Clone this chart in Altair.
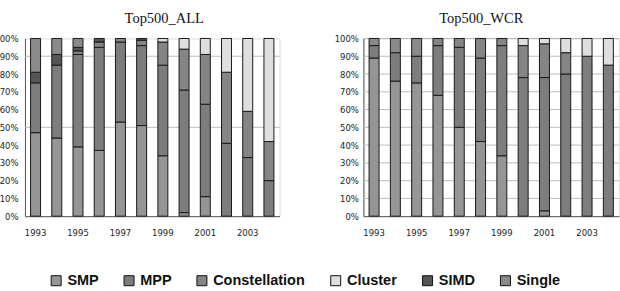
import altair as alt
import pandas as pd

# Architecture share of Top500 systems per year (percent of systems)
years = list(range(1993, 2005))
categories = ["SMP", "MPP", "Constellation", "Cluster", "SIMD", "Single"]
colors = ["#959595", "#7d7d7d", "#858585", "#dedede", "#555555", "#8a8a8a"]

# Top500_ALL
all_smp = [47, 44, 39, 37, 53, 51, 34, 2, 11, 0, 0, 0]
all_mpp = [28, 41, 52, 58, 45, 45, 51, 69, 52, 41, 33, 20]
all_const = [0, 0, 2, 3, 2, 3, 13, 23, 28, 40, 26, 22]
all_cluster = [0, 0, 0, 0, 0, 0, 2, 6, 9, 19, 41, 58]
all_simd = [6, 6, 2, 2, 0, 1, 0, 0, 0, 0, 0, 0]
all_single = [19, 9, 5, 0, 0, 0, 0, 0, 0, 0, 0, 0]

# Top500_WCR
wcr_smp = [89, 76, 75, 68, 50, 42, 34, 0, 3, 0, 0, 0]
wcr_mpp = [7, 16, 15, 28, 45, 47, 62, 78, 75, 80, 90, 85]
wcr_const = [0, 0, 0, 4, 5, 11, 4, 18, 19, 12, 0, 0]
wcr_cluster = [0, 0, 0, 0, 0, 0, 0, 4, 3, 8, 10, 15]
wcr_simd = [0, 0, 0, 0, 0, 0, 0, 0, 0, 0, 0, 0]
wcr_single = [4, 8, 10, 0, 0, 0, 0, 0, 0, 0, 0, 0]

y_ticks = [0, 0.1, 0.2, 0.3, 0.4, 0.5, 0.6, 0.7, 0.8, 0.9, 1.0]
all_grid = [0.5, 0.9]
wcr_grid = y_ticks[1:]

AXIS_FONT = "DejaVu Sans"


def long_table(series):
    rows = []
    for k, cat in enumerate(categories):
        for yr, v in zip(years, series[k]):
            rows.append({"year": yr, "arch": cat, "stack_idx": k, "share": v})
    return pd.DataFrame(rows)


def panel(series, title, title_dx, grid_levels, width, y_label_pad):
    df = long_table(series)
    y_scale = alt.Scale(domain=[0, 1])
    x_scale = alt.Scale(paddingInner=0, paddingOuter=0)
    y_axis = alt.Axis(
        title=None, format=".0%", values=y_ticks, grid=False, ticks=False,
        labelFont=AXIS_FONT, labelFontSize=8.5, labelColor="#222",
        labelPadding=y_label_pad, domainColor="#555",
    )

    bars = alt.Chart(df).transform_filter("datum.share > 0").mark_bar(
        size=10, stroke="#1a1a1a", strokeWidth=1
    ).encode(
        x=alt.X(
            "year:O",
            scale=x_scale,
            axis=alt.Axis(
                title=None, labelAngle=0, ticks=False,
                labelExpr="datum.value % 2 == 1 ? datum.label : ''",
                labelFont=AXIS_FONT, labelFontSize=8.5, labelColor="#222",
                labelPadding=12, domainColor="#555",
            ),
        ),
        y=alt.Y("share:Q", stack="normalize", scale=y_scale, axis=y_axis),
        color=alt.Color(
            "arch:N",
            scale=alt.Scale(domain=categories, range=colors),
            legend=alt.Legend(
                title=None, orient="none", direction="horizontal",
                legendX=24, legendY=235,
                symbolType="square", symbolSize=100,
                symbolStrokeColor="#111", symbolStrokeWidth=1,
                labelFont="Liberation Sans", labelFontSize=14.5,
                labelFontWeight="bold", labelColor="#111",
                labelOffset=4, columnPadding=23, padding=0,
            ),
        ),
        order=alt.Order("stack_idx:Q"),
    )

    # horizontal reference lines, drawn under the bars
    grid = alt.Chart(pd.DataFrame({"level": grid_levels})).mark_rule(
        color="#bdbdbd", strokeWidth=1
    ).encode(y=alt.Y("level:Q", scale=y_scale, axis=y_axis))

    return alt.layer(grid, bars).properties(
        width=width,
        height=178,
        title=alt.TitleParams(
            title, font="Liberation Serif", fontSize=14.5, fontWeight="normal",
            frame="group", anchor="middle", baseline="alphabetic",
            offset=-3.3, dx=title_dx, color="#111",
        ),
    )


left = panel(
    [all_smp, all_mpp, all_const, all_cluster, all_simd, all_single],
    "Top500_ALL", 12, all_grid, 255, 7,
)
right = panel(
    [wcr_smp, wcr_mpp, wcr_const, wcr_cluster, wcr_simd, wcr_single],
    "Top500_WCR", -10, wcr_grid, 256, 5,
)

chart = alt.hconcat(left, right, spacing=53).properties(
    padding={"left": -7, "top": 10.3, "right": 0, "bottom": 0}
).configure_view(stroke="#9a9a9a").configure(background="white")

chart.save("out.html", embed_options={"renderer": "svg", "actions": False})
